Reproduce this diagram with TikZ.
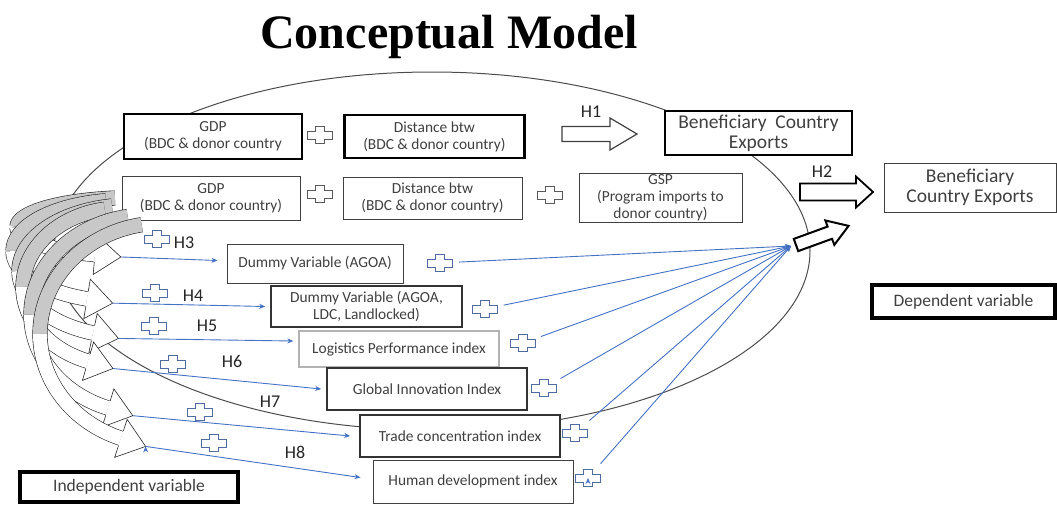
\documentclass[tikz,border=0pt]{standalone}
\usepackage{fontspec}
\setmainfont{Carlito}
\newfontfamily\titlefont{Liberation Serif}
\usetikzlibrary{positioning, arrows.meta}

\definecolor{txtgray}{RGB}{64,64,64}
\definecolor{lineblue}{RGB}{68,114,196}
\definecolor{plusblue}{RGB}{79,108,160}
\definecolor{backgray}{RGB}{200,200,200}

\tikzset{
  box/.style={draw, fill=white, text=txtgray, align=center, inner sep=0pt,
    font=\fontsize{15.4}{17}\selectfont},
  boldbox/.style={box, line width=2.4pt},
  thinbox/.style={box, draw=black!75, line width=1pt},
  midbox/.style={box, draw=black!80, line width=1.6pt},
  varbox/.style={box, line width=4pt, font=\fontsize{17.5}{19}\selectfont},
  bigtext/.style={font=\fontsize{19.5}{20}\selectfont},
  hyp/.style={font=\fontsize{18}{20}\selectfont, text=black!85},
  blueline/.style={draw=lineblue, line width=0.9pt, -{Stealth[length=6pt,width=5pt]}},
  convline/.style={blueline, shorten <=19pt},
  band/.style={draw=black!85, line width=0.6pt, double distance=14pt},
  pics/plus/.style={code={
    \path[draw=#1, line width=0.9pt, fill=white]
      (-4.5,-8.5) -- (4.5,-8.5) -- (4.5,-4) -- (12.5,-4) -- (12.5,4) -- (4.5,4)
      -- (4.5,8.5) -- (-4.5,8.5) -- (-4.5,4) -- (-12.5,4) -- (-12.5,-4) -- (-4.5,-4) -- cycle;
    \coordinate (-c) at (0,0);
  }},
  pics/blockarr/.style n args={4}{code={
    \path[fill=white, draw] (0,-#2) -- (#1-#4,-#2) -- (#1-#4,-#3) -- (#1,0)
      -- (#1-#4,#3) -- (#1-#4,#2) -- (0,#2) -- cycle;
  }},
}

% curved block arrow: centre x, centre y, x radius, y radius, name of tip
\newcommand{\curvarrow}[5]{%
  \draw[band, double=backgray] (#1,#2) ++(260:#3 and #4)
    arc[start angle=260, end angle=180, x radius=#3, y radius=#4];
  \draw[band, double=white] (#1,#2) ++(180:#3 and #4)
    arc[start angle=180, end angle=110, x radius=#3, y radius=#4] coordinate (#5-e);
  \pgfmathsetmacro\headang{atan2(#4*cos(110), #3*sin(110))}
  \begin{scope}[shift={(#5-e)}, rotate=\headang]
    \path[fill=white, draw=black!85, line width=0.6pt]
      (0,-7.6) -- (0,-20) -- (26,0) coordinate (#5) -- (0,20) -- (0,7.6);
  \end{scope}
}

\begin{document}
\begin{tikzpicture}[x=1pt, y=-1pt]
  \useasboundingbox (0,0) rectangle (1057,504);

  \draw[black!70, line width=1pt] (432,251) ellipse [x radius=378, y radius=179];

  \node[font={\titlefont\bfseries\fontsize{48}{50}\selectfont}, anchor=base] (title) at (449,48) {Conceptual Model};

  % first row
  \node (gdpa) [boldbox, minimum width=178pt, minimum height=45pt] at (213,136.5) {GDP\\(BDC \& donor country};
  \node (dista) [boldbox, minimum width=180pt, minimum height=43pt, right=40pt of gdpa] {Distance btw\\(BDC \& donor country)};
  \node (bena) [boldbox, line width=2pt, bigtext, minimum width=187pt, minimum height=44pt] at (758.5,133) {Beneficiary\ \ Country\\Exports};

  % second row
  \node (gdpb) [thinbox, minimum width=178pt, minimum height=44pt] at (211,198) {GDP\\(BDC \& donor country)};
  \node (distb) [thinbox, minimum width=179pt, minimum height=42pt, right=42pt of gdpb] {Distance btw\\(BDC \& donor country)};
  \node (gsp) [thinbox, minimum width=163pt, minimum height=49pt, right=56pt of distb] {GSP\\(Program imports to\\donor country)};
  \node (benb) [thinbox, bigtext, minimum width=172pt, minimum height=49pt] at (970,187.5) {Beneficiary\\Country Exports};

  % independent variables
  \node (dva) [thinbox, minimum width=176pt, minimum height=39pt] at (315,263.5) {Dummy Variable (AGOA)};
  \node (dvb) [midbox, minimum width=191pt, minimum height=41pt] at (366.5,306.5) {Dummy Variable (AGOA,\\LDC, Landlocked)};
  \node (lpi) [box, draw=black!30, line width=1.4pt, minimum width=200pt, minimum height=36pt] at (399,349) {Logistics Performance index};
  \node (gii) [midbox, minimum width=200pt, minimum height=42pt] at (427,389) {Global Innovation Index};
  \node (tci) [midbox, minimum width=200pt, minimum height=42pt] at (460,436) {Trade concentration index};
  \node (hdi) [thinbox, minimum width=200pt, minimum height=43pt] at (473,481.5) {Human development index};

  \node (dep) [varbox, minimum width=183pt, minimum height=33pt] at (963.5,301.5) {Dependent variable};
  \node (indep) [varbox, minimum width=218pt, minimum height=30pt] at (129,487) {Independent variable};

  % curved arrows on the left
  \curvarrow{135.5}{227}{118.5}{29.4}{ar1}
  \curvarrow{125.5}{251}{112.5}{51}{ar2}
  \curvarrow{131.5}{271}{112.5}{66}{ar3}
  \curvarrow{121.8}{287}{98.8}{79}{ar4}
  \curvarrow{148}{314.5}{117}{99.5}{ar5}
  \curvarrow{163}{334}{123}{111}{ar6}

  % plus signs
  \pic at (320,135) {plus=black!65};
  \pic at (320,194) {plus=black!65};
  \pic at (550,195) {plus=black!65};
  \pic at (157,239) {plus=plusblue};
  \pic at (155,293) {plus=plusblue};
  \pic at (154,326) {plus=plusblue};
  \pic at (173,364) {plus=plusblue};
  \pic at (200,412) {plus=plusblue};
  \pic at (214,443) {plus=plusblue};
  \pic (pla) at (440,263) {plus=plusblue};
  \pic (plb) at (485,309) {plus=plusblue};
  \pic (plc) at (523,343) {plus=plusblue};
  \pic (pld) at (544,388) {plus=plusblue};
  \pic (ple) at (575,433) {plus=plusblue};
  \pic (plf) at (588,478) {plus=plusblue};

  % hypotheses
  \node[hyp] (h1) at (591,112) {H1};
  \node[hyp] (h2) at (822,172) {H2};
  \node[hyp] (h3) at (184,243) {H3};
  \node[hyp] (h4) at (193,296) {H4};
  \node[hyp] (h5) at (207,326) {H5};
  \node[hyp] (h6) at (232,361) {H6};
  \node[hyp] (h7) at (270,402) {H7};
  \node[hyp] (h8) at (295,452) {H8};

  \pic[black!75, line width=1.2pt] at (562,134) {blockarr={75}{7.5}{16}{27}};
  \pic[black, line width=1.8pt] at (800,192) {blockarr={73}{8.5}{15.5}{17}};

  \coordinate (conv) at (791,246);

  \path[blueline] (ar1) edge ([xshift=-9pt, yshift=3pt]dva.west)
                  (ar2) edge ([xshift=-5pt]dvb.west)
                  (ar3) edge ([xshift=-5pt, yshift=8pt]lpi.west)
                  (ar4) edge ([xshift=-5pt]gii.west)
                  (ar5) edge ([xshift=-9pt]tci.west)
                  (ar6) edge ([xshift=-12pt, yshift=4pt]hdi.west);

  \path[convline] (pla-c) edge (conv)
                  (plb-c) edge (conv)
                  (plc-c) edge (conv)
                  (pld-c) edge (conv)
                  (ple-c) edge (conv)
                  (plf-c) edge (conv);

  \pic[black, line width=2pt, rotate=20] at (796,245) {blockarr={56}{6.5}{13}{20}};
\end{tikzpicture}
\end{document}
